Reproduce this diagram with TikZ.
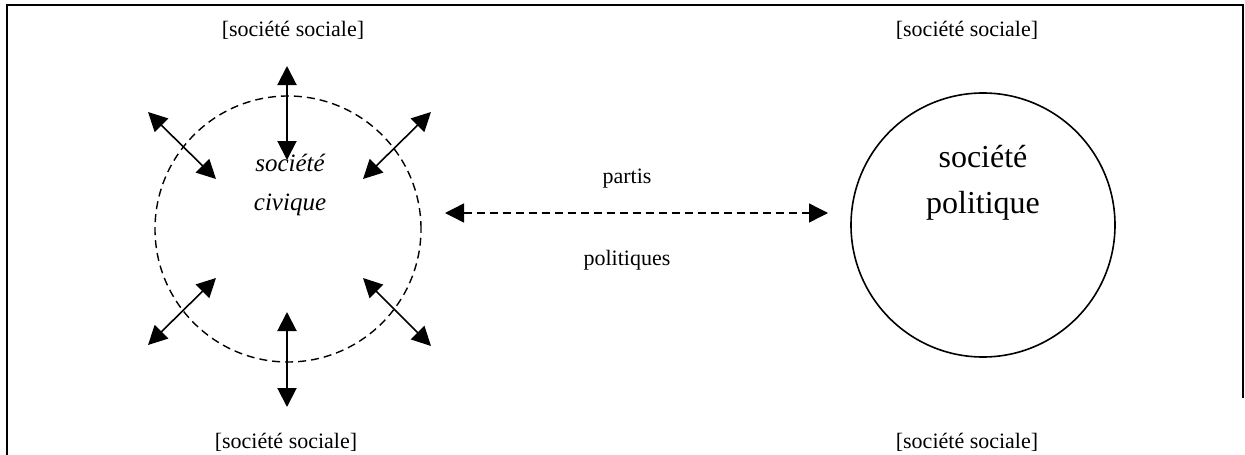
\documentclass[tikz,border=0pt]{standalone}
\usepackage{fontspec}
\setmainfont{Liberation Serif}
\usetikzlibrary{arrows.meta}
\tikzset{
  lbl/.style={anchor=base,inner sep=0pt,font=\fontsize{22}{26}\selectfont},
  civ/.style={anchor=base,inner sep=0pt,font=\fontsize{25}{30}\selectfont\itshape},
  pol/.style={anchor=base,inner sep=0pt,font=\fontsize{32}{38}\selectfont},
  twoway/.style={line width=1.6pt,{Triangle[length=19pt,width=19pt]}-{Triangle[length=19pt,width=19pt]}},
  dash line/.style={line width=1.4pt,dash pattern=on 8pt off 5pt},
}
\begin{document}
\begin{tikzpicture}[x=1pt,y=-1pt]
\useasboundingbox (0,0) rectangle (1245,455);
% frame
\draw[line width=2pt] (7,455) -- (7,5) -- (1243,5) -- (1243,398);
% circles
\node (civ) [circle,draw,dash line,minimum size=266pt,inner sep=0pt] at (288,229) {};
\node (pol) [circle,draw,line width=1.6pt,minimum size=264pt,inner sep=0pt] at (983,225) {};
% texts
\node (c1) [civ] at (290,171) {société};
\node (c2) [civ] at (290,210) {civique};
\node (p1) [pol] at (983,167) {société};
\node (p2) [pol] at (983,213) {politique};
\node (tl) [lbl] at (293,36) {[société sociale]};
\node (tr) [lbl] at (967,36) {[société sociale]};
\node (bl) [lbl] at (286,448) {[société sociale]};
\node (br) [lbl] at (967,448) {[société sociale]};
\node (pa) [lbl] at (627,183) {partis};
\node (po) [lbl] at (627,265) {politiques};
% arrow end points
\coordinate (t1) at (287,66);   \coordinate (t2) at (287,160);
\coordinate (b1) at (287,312);  \coordinate (b2) at (287,407);
\coordinate (ul1) at (148,112); \coordinate (ul2) at (216,179);
\coordinate (ur1) at (431,112); \coordinate (ur2) at (363,179);
\coordinate (ll1) at (148,345); \coordinate (ll2) at (216,278);
\coordinate (lr1) at (431,346); \coordinate (lr2) at (363,278);
\coordinate (h1) at (445,213);  \coordinate (h2) at (828,213);
\draw[twoway,line width=2pt] (t1) -- (t2);
\draw[twoway,line width=2pt] (b1) -- (b2);
\draw[twoway] (ul1) -- (ul2);
\draw[twoway] (ur1) -- (ur2);
\draw[twoway] (ll1) -- (ll2);
\draw[twoway] (lr1) -- (lr2);
\draw[twoway,dash line] (h1) -- (h2);
\end{tikzpicture}
\end{document}
